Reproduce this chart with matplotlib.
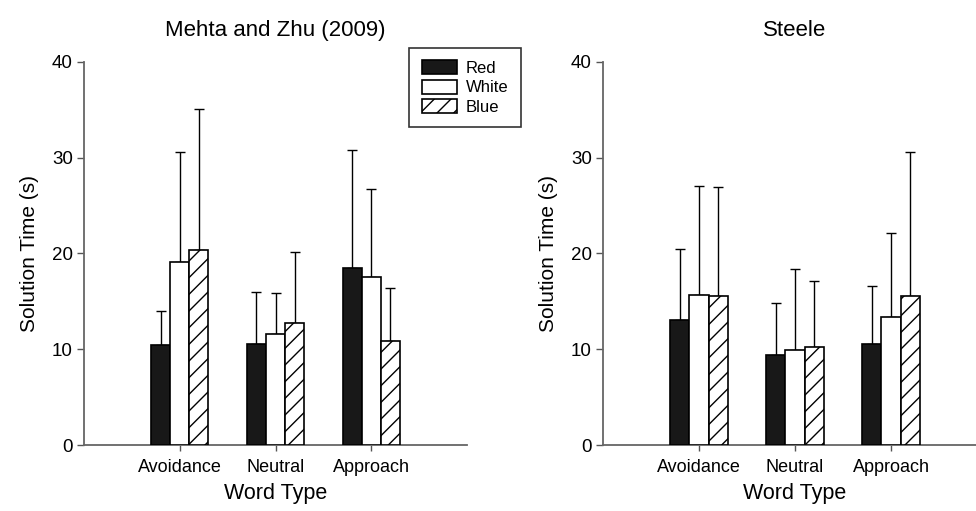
import matplotlib.pyplot as plt
import matplotlib.patches as mpatches
import numpy as np

plt.rcParams['font.family'] = ['Liberation Sans', 'DejaVu Sans']

word_types = ["Avoidance", "Neutral", "Approach"]
colours = ["Red", "White", "Blue"]

mehta_means = {
    "Red": [10.4, 10.6, 18.5],
    "White": [19.1, 11.6, 17.5],
    "Blue": [20.4, 12.7, 10.9],
}
mehta_tops = {
    "Red": [14.0, 16.0, 30.8],
    "White": [30.6, 15.9, 26.7],
    "Blue": [35.1, 20.2, 16.4],
}
steele_means = {
    "Red": [13.1, 9.4, 10.6],
    "White": [15.7, 9.9, 13.4],
    "Blue": [15.6, 10.2, 15.6],
}
steele_tops = {
    "Red": [20.5, 14.8, 16.6],
    "White": [27.1, 18.4, 22.1],
    "Blue": [26.9, 17.1, 30.6],
}

styles = {
    "Red": dict(facecolor="#181818", hatch=None),
    "White": dict(facecolor="white", hatch=None),
    "Blue": dict(facecolor="white", hatch="//"),
}

plt.rcParams['hatch.linewidth'] = 1.0
fig = plt.figure(figsize=(9.76, 5.11), dpi=100)
W, H = 976, 511


def draw_panel(ax, title, means, tops):
    x = np.arange(1, len(word_types) + 1)
    width = 0.2
    for i, c in enumerate(colours):
        pos = x + (i - 1) * width
        m = np.array(means[c])
        up = np.array(tops[c]) - m
        ax.bar(pos, m, width, color=styles[c]["facecolor"], hatch=styles[c]["hatch"],
               edgecolor="black", linewidth=1.2, zorder=3, label=c)
        ax.errorbar(pos, m, yerr=[np.zeros_like(m), up], fmt="none", ecolor="black",
                    elinewidth=1.0, capsize=3.5, capthick=1.0, zorder=2)
    ax.set_xlim(0, 4)
    ax.set_ylim(0, 40)
    ax.set_yticks([0, 10, 20, 30, 40])
    ax.set_xticks(x)
    ax.set_xticklabels(word_types, fontsize=13)
    ax.tick_params(axis="y", labelsize=13.5, length=5, width=1, color="#555555", pad=3)
    ax.tick_params(axis="x", length=4, width=1, color="#555555", pad=6)
    for s in ["top", "right"]:
        ax.spines[s].set_visible(False)
    for s in ["left", "bottom"]:
        ax.spines[s].set_color("#666666")
        ax.spines[s].set_linewidth(1.3)
    ax.set_xlabel("Word Type", fontsize=15.5, labelpad=5)
    ax.set_ylabel("Solution Time (s)", fontsize=15, labelpad=9)
    ax.set_title(title, fontsize=16, pad=19)


ax1 = fig.add_axes([84 / W, 66 / H, 383 / W, 383 / H])
draw_panel(ax1, "Mehta and Zhu (2009)", mehta_means, mehta_tops)

ax2 = fig.add_axes([603 / W, 66 / H, 384 / W, 383 / H])
draw_panel(ax2, "Steele", steele_means, steele_tops)

handles = [mpatches.Patch(facecolor=styles[c]["facecolor"], hatch=styles[c]["hatch"],
                          edgecolor="black", linewidth=1.2, label=c) for c in colours]
leg = fig.legend(handles=handles, loc="upper right", bbox_to_anchor=(521 / W, 1 - 48 / H),
                 fontsize=12, frameon=True, fancybox=False, edgecolor="black",
                 handlelength=2.1, handleheight=0.9, labelspacing=0.22,
                 borderpad=0.75, handletextpad=0.55, borderaxespad=0)
leg.get_frame().set_linewidth(1.2)

fig.savefig("out.png", dpi=100)
